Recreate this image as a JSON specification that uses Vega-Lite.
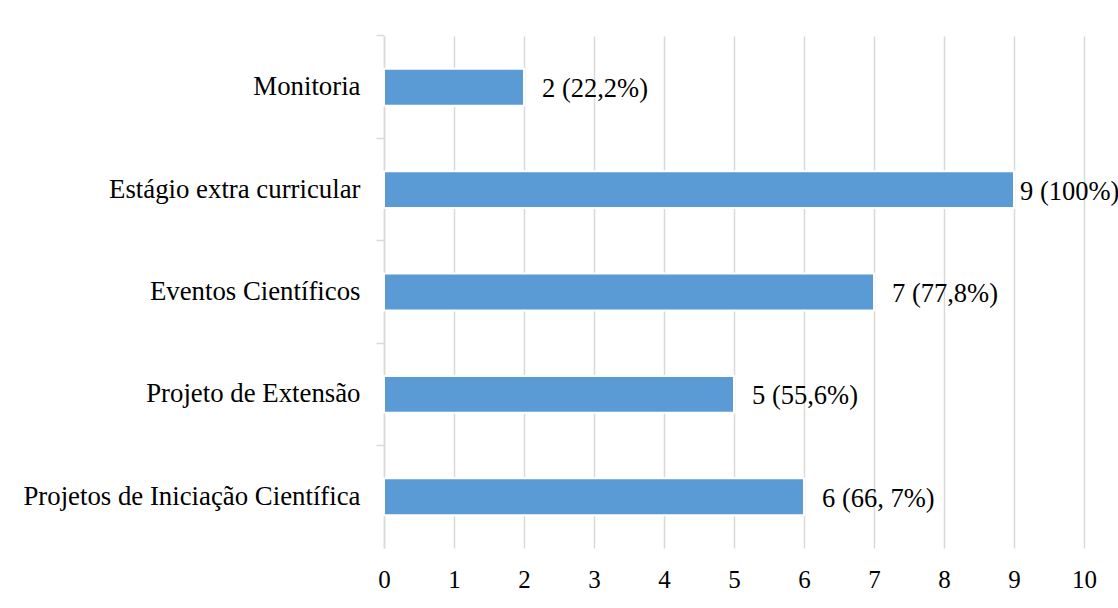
{
  "$schema": "https://vega.github.io/schema/vega-lite/v6.json",
  "autosize": "none",
  "padding": {"left": 384, "top": 36, "right": 34, "bottom": 60},
  "width": 700,
  "height": 512,
  "background": "white",
  "config": {
    "view": {"stroke": null},
    "font": "Liberation Serif",
    "axis": {"labelFont": "Liberation Serif", "labelColor": "#000000"}
  },
  "data": {
    "values": [
      {"atividade": "Monitoria", "n": 2, "rotulo": "2 (22,2%)"},
      {"atividade": "Estágio extra curricular", "n": 9, "rotulo": "9 (100%)"},
      {"atividade": "Eventos Científicos", "n": 7, "rotulo": "7 (77,8%)"},
      {"atividade": "Projeto de Extensão", "n": 5, "rotulo": "5 (55,6%)"},
      {"atividade": "Projetos de Iniciação Científica", "n": 6, "rotulo": "6 (66, 7%)"}
    ]
  },
  "encoding": {
    "y": {
      "field": "atividade",
      "type": "nominal",
      "sort": null,
      "title": null,
      "scale": {"paddingInner": 0.64, "paddingOuter": 0.32},
      "axis": {
        "bandPosition": -0.889,
        "domainColor": "#d9d9d9",
        "domainWidth": 1.5,
        "tickColor": "#d9d9d9",
        "tickWidth": 1.5,
        "tickSize": 8,
        "labelFontSize": 26.8,
        "labelPadding": 16,
        "labelLimit": 400,
        "grid": false
      }
    }
  },
  "layer": [
    {
      "mark": {"type": "bar", "color": "#5b9bd5", "stroke": "white", "strokeWidth": 2},
      "encoding": {
        "x": {
          "field": "n",
          "type": "quantitative",
          "title": null,
          "scale": {"domain": [0, 10], "nice": false},
          "axis": {
            "values": [0, 1, 2, 3, 4, 5, 6, 7, 8, 9, 10],
            "format": "d",
            "domain": false,
            "ticks": false,
            "grid": true,
            "gridColor": "#d9d9d9",
            "gridWidth": 1.5,
            "labelFontSize": 25,
            "labelPadding": 19,
            "labelFlush": false
          }
        }
      }
    },
    {
      "transform": [{"filter": "datum.n < 9"}],
      "mark": {"type": "text", "align": "left", "baseline": "middle", "dx": 18, "dy": 2, "fontSize": 26.5, "color": "#000000"},
      "encoding": {
        "x": {"field": "n", "type": "quantitative"},
        "text": {"field": "rotulo"}
      }
    },
    {
      "transform": [{"filter": "datum.n >= 9"}],
      "mark": {"type": "text", "align": "left", "baseline": "middle", "dx": 6, "dy": 2, "fontSize": 26.5, "color": "#000000"},
      "encoding": {
        "x": {"field": "n", "type": "quantitative"},
        "text": {"field": "rotulo"}
      }
    }
  ]
}
